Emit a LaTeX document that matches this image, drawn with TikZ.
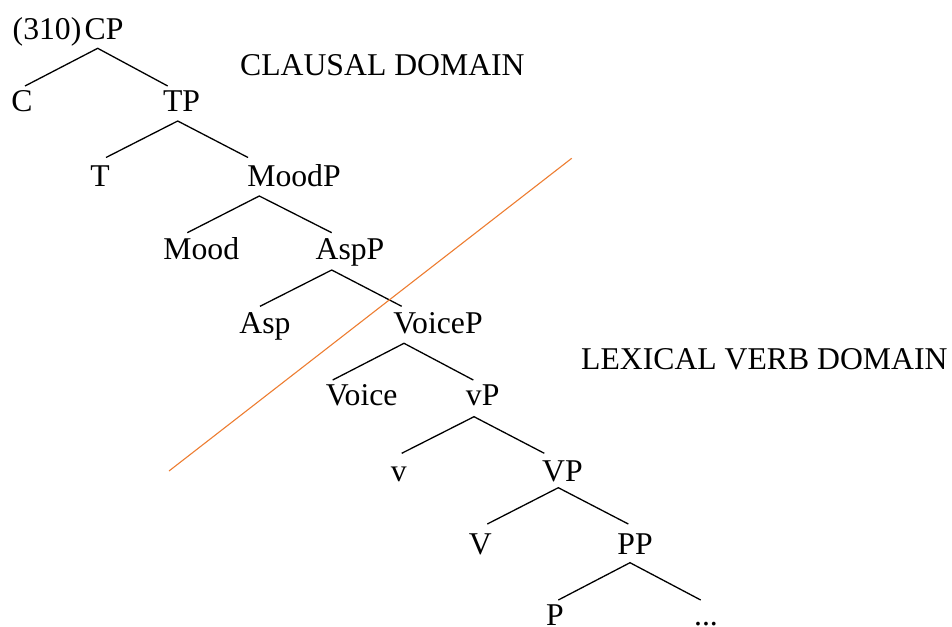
\documentclass[tikz,border=0pt]{standalone}
\usepackage{fontspec}
\setmainfont{Liberation Serif}
\definecolor{domorange}{HTML}{ED7D31}
\begin{document}
\begin{tikzpicture}[x=1pt,y=-1pt,
  lab/.style={anchor=base,inner sep=0pt,font=\fontsize{31.7}{38}\selectfont},
  branch/.style={draw=black,line width=1.3pt},
  divider/.style={draw=domorange,line width=1.1pt}]
\useasboundingbox (0,0) rectangle (952,626);
% labels
\node[lab,anchor=base west] (num) at (12.5,39.3) {(310)};
\node[lab] (cp) at (104,39.3) {CP};
\node[lab] (c) at (22,111.7) {C};
\node[lab] (tp) at (181.5,111.7) {TP};
\node[lab] (t) at (100,186) {T};
\node[lab] (moodp) at (294,186) {MoodP};
\node[lab] (mood) at (201.3,259.3) {Mood};
\node[lab] (aspp) at (350,259.3) {AspP};
\node[lab] (asp) at (265,333) {Asp};
\node[lab] (voicep) at (438,333) {VoiceP};
\node[lab] (voice) at (361.7,405) {Voice};
\node[lab] (vsp) at (482.7,405) {vP};
\node[lab] (vs) at (398.8,481) {v};
\node[lab] (vp) at (562.5,481) {VP};
\node[lab] (v) at (480.3,554.3) {V};
\node[lab] (pp) at (635,554.3) {PP};
\node[lab] (p) at (555,625) {P};
\node[lab] (dots) at (706,625) {...};
\node[lab,anchor=base west] (clausal) at (240,75) {CLAUSAL DOMAIN};
\node[lab,anchor=base west] (lexical) at (581,369.3) {LEXICAL VERB DOMAIN};
% branch points
\coordinate (cp-a) at (97.7,48.3);   \coordinate (c-t) at (25,86);      \coordinate (tp-t) at (167.7,86);
\coordinate (tp-a) at (177.7,121);   \coordinate (t-t) at (106,157.5);  \coordinate (moodp-t) at (248,157.5);
\coordinate (moodp-a) at (259.3,196);\coordinate (mood-t) at (187.3,232.7); \coordinate (aspp-t) at (331.7,232.7);
\coordinate (aspp-a) at (331.7,270); \coordinate (asp-t) at (260,306.3); \coordinate (voicep-t) at (401.7,306.3);
\coordinate (voicep-a) at (404,343.3); \coordinate (voice-t) at (332.7,380); \coordinate (vsp-t) at (473.3,380);
\coordinate (vsp-a) at (474,416.7);  \coordinate (vs-t) at (401.7,453.3); \coordinate (vp-t) at (544.3,453.3);
\coordinate (vp-a) at (558.3,487.7); \coordinate (v-t) at (487.3,524);   \coordinate (pp-t) at (628.3,524);
\coordinate (pp-a) at (630,562.7);   \coordinate (p-t) at (558.3,600);   \coordinate (dots-t) at (700.7,600);
\coordinate (div-a) at (169,471);    \coordinate (div-b) at (571.7,158.3);
% branches
\draw[branch] (c-t) -- (cp-a) -- (tp-t);
\draw[branch] (t-t) -- (tp-a) -- (moodp-t);
\draw[branch] (mood-t) -- (moodp-a) -- (aspp-t);
\draw[branch] (asp-t) -- (aspp-a) -- (voicep-t);
\draw[branch] (voice-t) -- (voicep-a) -- (vsp-t);
\draw[branch] (vs-t) -- (vsp-a) -- (vp-t);
\draw[branch] (v-t) -- (vp-a) -- (pp-t);
\draw[branch] (p-t) -- (pp-a) -- (dots-t);
% domain divider
\draw[divider] (div-a) -- (div-b);
\end{tikzpicture}
\end{document}
